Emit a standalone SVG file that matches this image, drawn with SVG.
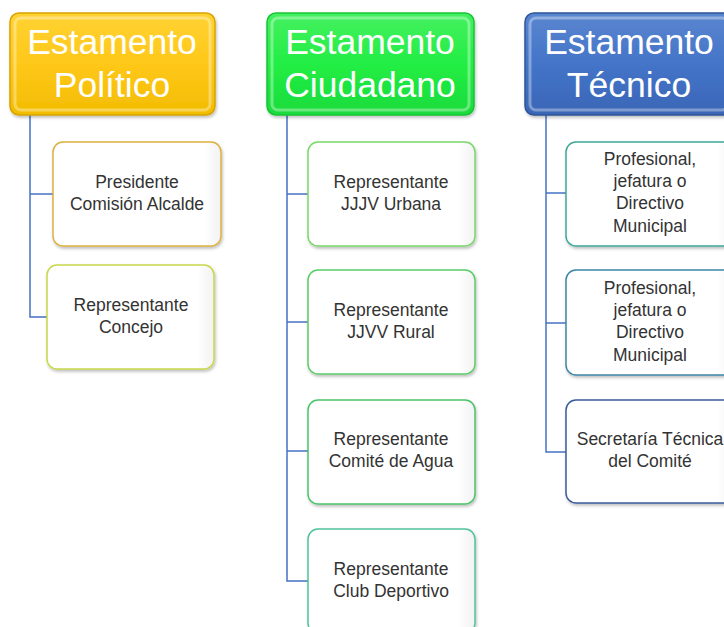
<svg xmlns="http://www.w3.org/2000/svg" width="724" height="627" viewBox="0 0 724 627">
<defs>
<linearGradient id="gY" x1="0" y1="0" x2="0" y2="1"><stop offset="0" stop-color="#FFD233"/><stop offset="0.5" stop-color="#FFC81A"/><stop offset="1" stop-color="#F2BC00"/></linearGradient>
<linearGradient id="gG" x1="0" y1="0" x2="0" y2="1"><stop offset="0" stop-color="#45F060"/><stop offset="0.5" stop-color="#22EE44"/><stop offset="1" stop-color="#1ADB3C"/></linearGradient>
<linearGradient id="gB" x1="0" y1="0" x2="0" y2="1"><stop offset="0" stop-color="#5A86D0"/><stop offset="0.5" stop-color="#4474C8"/><stop offset="1" stop-color="#3A66B6"/></linearGradient>
<linearGradient id="gW" x1="0" y1="0" x2="1" y2="0"><stop offset="0" stop-color="#FFFFFF"/><stop offset="0.9" stop-color="#FFFFFF"/><stop offset="1" stop-color="#F2F2F2"/></linearGradient>
<filter id="sh" x="-10%" y="-10%" width="120%" height="130%"><feDropShadow dx="1" dy="2" stdDeviation="1.5" flood-color="#000" flood-opacity="0.25"/></filter>
</defs>
<style>
.hd{stroke-width:1.5;filter:url(#sh)}
.ht{font-family:"Liberation Sans",Arial,sans-serif;font-size:35.5px;fill:#FFFFFF;text-anchor:middle}
.bx{fill:url(#gW);stroke-width:1.5;filter:url(#sh)}
.bt{font-family:"Liberation Sans",Arial,sans-serif;font-size:17.5px;fill:#333333;text-anchor:middle}
.cn{fill:none;stroke:#4472C4;stroke-width:1.5}
.hl{fill:none;stroke:#FFFFFF;stroke-opacity:0.35;stroke-width:3}
</style>
<g id="connectors">
<polyline class="cn" points="30,115 30,317 47,317"/>
<line class="cn" x1="30" y1="194" x2="53" y2="194"/>
<polyline class="cn" points="287,115 287,581 308,581"/>
<line class="cn" x1="287" y1="194" x2="308" y2="194"/>
<line class="cn" x1="287" y1="322" x2="308" y2="322"/>
<line class="cn" x1="287" y1="451" x2="308" y2="451"/>
<polyline class="cn" points="546,115 546,452 566,452"/>
<line class="cn" x1="546" y1="193" x2="566" y2="193"/>
<line class="cn" x1="546" y1="323" x2="566" y2="323"/>
</g>
<g id="h1">
<rect class="hd" x="10" y="13" width="205" height="102" rx="9" fill="url(#gY)" stroke="#D6A400"/>
<rect class="hl" x="15" y="18" width="195" height="92" rx="6"/>
<text class="ht" x="112" y="54">Estamento</text>
<text class="ht" x="112" y="97">Político</text>
</g>
<g id="h2">
<rect class="hd" x="267" y="13" width="207" height="102" rx="9" fill="url(#gG)" stroke="#18C436"/>
<rect class="hl" x="272" y="18" width="197" height="92" rx="6"/>
<text class="ht" x="370" y="54">Estamento</text>
<text class="ht" x="370" y="97">Ciudadano</text>
</g>
<g id="h3">
<rect class="hd" x="525" y="13" width="208" height="102" rx="9" fill="url(#gB)" stroke="#2F5597"/>
<rect class="hl" x="530" y="18" width="198" height="92" rx="6"/>
<text class="ht" x="629" y="54">Estamento</text>
<text class="ht" x="629" y="97">Técnico</text>
</g>
<g id="n1">
<rect class="bx" x="53" y="142" width="168" height="104" rx="10" stroke="#DDB040"/>
<text class="bt" x="137" y="188">Presidente</text>
<text class="bt" x="137" y="210">Comisión Alcalde</text>
</g>
<g id="n2">
<rect class="bx" x="47" y="265" width="167" height="104" rx="10" stroke="#C8D84A"/>
<text class="bt" x="131" y="311">Representante</text>
<text class="bt" x="131" y="333">Concejo</text>
</g>
<g id="n3">
<rect class="bx" x="308" y="142" width="167" height="104" rx="10" stroke="#7AD86A"/>
<text class="bt" x="391" y="188">Representante</text>
<text class="bt" x="391" y="210">JJJV Urbana</text>
</g>
<g id="n4">
<rect class="bx" x="308" y="270" width="167" height="104" rx="10" stroke="#5CCC66"/>
<text class="bt" x="391" y="316">Representante</text>
<text class="bt" x="391" y="338">JJVV Rural</text>
</g>
<g id="n5">
<rect class="bx" x="308" y="400" width="167" height="104" rx="10" stroke="#4CC46A"/>
<text class="bt" x="391" y="445">Representante</text>
<text class="bt" x="391" y="467">Comité de Agua</text>
</g>
<g id="n6">
<rect class="bx" x="308" y="529" width="167" height="104" rx="10" stroke="#50C49A"/>
<text class="bt" x="391" y="575">Representante</text>
<text class="bt" x="391" y="597">Club Deportivo</text>
</g>
<g id="n7">
<rect class="bx" x="566" y="142" width="168" height="104" rx="10" stroke="#3EA89A"/>
<text class="bt" x="650" y="165">Profesional,</text>
<text class="bt" x="650" y="187">jefatura o</text>
<text class="bt" x="650" y="209">Directivo</text>
<text class="bt" x="650" y="232">Municipal</text>
</g>
<g id="n8">
<rect class="bx" x="566" y="270" width="168" height="105" rx="10" stroke="#3C86A8"/>
<text class="bt" x="650" y="294">Profesional,</text>
<text class="bt" x="650" y="316">jefatura o</text>
<text class="bt" x="650" y="338">Directivo</text>
<text class="bt" x="650" y="361">Municipal</text>
</g>
<g id="n9">
<rect class="bx" x="566" y="400" width="168" height="103" rx="10" stroke="#3A5C9C"/>
<text class="bt" x="650" y="445">Secretaría Técnica</text>
<text class="bt" x="650" y="467">del Comité</text>
</g>
</svg>
